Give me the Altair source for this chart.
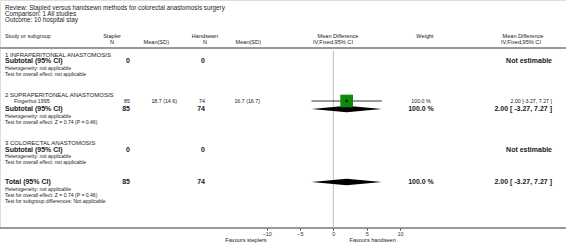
import altair as alt
import pandas as pd

# ---------------- data ----------------
review_line = "Review:  Stapled versus handsewn methods for colorectal anastomosis surgery"
comparison_line = "Comparison:  1 All studies"
outcome_line = "Outcome:  10 hospital stay"

group_titles = ["1 INFRAPERITONEAL ANASTOMOSIS", "2 SUPRAPERITONEAL ANASTOMOSIS", "3 COLORECTAL ANASTOMOSIS"]
subtotal_n1 = [0, 85, 0]
subtotal_n2 = [0, 74, 0]
subtotal_weight = [None, 100.0, None]
subtotal_md = [None, 2.00, None]
subtotal_lo = [None, -3.27, None]
subtotal_hi = [None, 7.27, None]
subtotal_het = ["not applicable", "not applicable", "not applicable"]
subtotal_effect = ["not applicable", "Z = 0.74 (P = 0.46)", "not applicable"]

study_names = ["Fingerhut 1995"]
study_group = [1]
study_n1 = [85]
study_mean1 = [18.7]
study_sd1 = [14.6]
study_n2 = [74]
study_mean2 = [16.7]
study_sd2 = [16.7]
study_weight = [100.0]
study_md = [2.00]
study_lo = [-3.27]
study_hi = [7.27]

total_n1 = 85
total_n2 = 74
total_weight = 100.0
total_md = 2.00
total_lo = -3.27
total_hi = 7.27
total_het = "not applicable"
total_effect = "Z = 0.74 (P = 0.46)"
subgroup_diff = "Not applicable"

axis_ticks = [-10, -5, 0, 5, 10]
favours_left = "Favours steplers"
favours_right = "Favours handseen"

# ---------------- layout (pixels) ----------------
FONT = "Liberation Sans"
X_STUDY, X_INDENT = 5, 14
X_N1, X_N2 = 130, 205
X_M1_HEAD, X_M1 = 169, 177
X_M2_HEAD, X_M2 = 261, 260
X_W, X_MD = 421, 552
Y_HEAD1, Y_HEAD2, Y_RULE = 35.5, 41.5, 48
LINE = 6.2
S_META, S_HEAD, S_GROUP, S_ROW, S_SMALL, S_BOLD, S_BOLDR = 6.3, 5.6, 6.0, 5.3, 5.1, 7.0, 7.0

texts = []
def T(x, y, s, size, bold=False, align="left"):
    texts.append(dict(x=x, y=y, t=s, size=size, w="bold" if bold else "normal", a=align))

T(X_STUDY, 7.8, review_line, S_META)
T(X_STUDY, 14.0, comparison_line, S_META)
T(X_STUDY, 20.3, outcome_line, S_META)
T(X_STUDY, Y_HEAD1, "Study or subgroup", S_HEAD)
T(112, Y_HEAD1, "Stapler", S_HEAD, align="center")
T(112, Y_HEAD2, "N", S_HEAD, align="center")
T(X_M1_HEAD, Y_HEAD2, "Mean(SD)", S_HEAD, align="right")
T(205, Y_HEAD1, "Handsewn", S_HEAD, align="center")
T(205, Y_HEAD2, "N", S_HEAD, align="center")
T(X_M2_HEAD, Y_HEAD2, "Mean(SD)", S_HEAD, align="right")
T(338, Y_HEAD1, "Mean Difference", S_HEAD, align="center")
T(333, Y_HEAD2, "IV,Fixed,95% CI", S_HEAD, align="center")
T(425, Y_HEAD1, "Weight", S_HEAD, align="center")
T(523, Y_HEAD1, "Mean Difference", S_HEAD, align="center")
T(521, Y_HEAD2, "IV,Fixed,95% CI", S_HEAD, align="center")

group_y = [54.5, 94.5, 143]
diamonds = []
squares = []
ci_lines = []
for g in range(3):
    y = group_y[g]
    T(X_STUDY, y, group_titles[g], S_GROUP)
    y += 6.5
    for i, nm in enumerate(study_names):
        if study_group[i] != g:
            continue
        T(X_INDENT, y, nm, S_ROW)
        T(X_N1, y, f"{study_n1[i]}", S_ROW, align="right")
        T(X_M1, y, f"{study_mean1[i]:.1f} ({study_sd1[i]:.1f})", S_ROW, align="right")
        T(X_N2, y, f"{study_n2[i]}", S_ROW, align="right")
        T(X_M2, y, f"{study_mean2[i]:.1f} ({study_sd2[i]:.1f})", S_ROW, align="right")
        T(X_W, y, f"{study_weight[i]:.1f} %", S_ROW, align="center")
        T(X_MD, y, f"{study_md[i]:.2f} [{study_lo[i]:.2f}, {study_hi[i]:.2f} ]", S_ROW, align="right")
        squares.append(dict(md=study_md[i], y=y))
        ci_lines.append(dict(lo=study_lo[i], hi=study_hi[i], y=y))
        y += 8
    T(X_STUDY, y, "Subtotal (95% CI)", S_BOLD, bold=True)
    T(X_N1, y, f"{subtotal_n1[g]}", S_BOLD, bold=True, align="right")
    T(X_N2, y, f"{subtotal_n2[g]}", S_BOLD, bold=True, align="right")
    if subtotal_md[g] is None:
        T(X_MD, y, "Not estimable", S_BOLDR, bold=True, align="right")
    else:
        T(X_W, y, f"{subtotal_weight[g]:.1f} %", S_BOLDR, bold=True, align="center")
        T(X_MD, y, f"{subtotal_md[g]:.2f} [ {subtotal_lo[g]:.2f}, {subtotal_hi[g]:.2f} ]", S_BOLDR, bold=True, align="right")
        diamonds.append(dict(lo=subtotal_lo[g], md=subtotal_md[g], hi=subtotal_hi[g], y=y))
    y += 6.6
    T(X_STUDY, y, "Heterogeneity: " + subtotal_het[g], S_SMALL)
    y += LINE
    T(X_STUDY, y, "Test for overall effect: " + subtotal_effect[g], S_SMALL)

y = 182
T(X_STUDY, y, "Total (95% CI)", S_BOLD, bold=True)
T(X_N1, y, f"{total_n1}", S_BOLD, bold=True, align="right")
T(X_N2, y, f"{total_n2}", S_BOLD, bold=True, align="right")
T(X_W, y, f"{total_weight:.1f} %", S_BOLDR, bold=True, align="center")
T(X_MD, y, f"{total_md:.2f} [ {total_lo:.2f}, {total_hi:.2f} ]", S_BOLDR, bold=True, align="right")
diamonds.append(dict(lo=total_lo, md=total_md, hi=total_hi, y=y))
y += 6.6
T(X_STUDY, y, "Heterogeneity: " + total_het, S_SMALL)
y += LINE
T(X_STUDY, y, "Test for overall effect: " + total_effect, S_SMALL)
y += LINE
T(X_STUDY, y, "Test for subgroup differences: " + subgroup_diff, S_SMALL)

Y_AXIS = 228
H = 228

text_df = pd.DataFrame(texts)
yscale = alt.Scale(domain=[0, H], range=[0, H])
pxscale = alt.Scale(domain=[0, 566], range=[0, 566])
fx = alt.Scale(domain=[-10, 10], range=[266.67, 400])

layers = []
for (a, w, s), sub in text_df.groupby(["a", "w", "size"]):
    layers.append(
        alt.Chart(sub).mark_text(font=FONT, baseline="middle", align=a, fontWeight=w, fontSize=float(s), color="#1a1a1a").encode(
            x=alt.X("x:Q", scale=pxscale, axis=None),
            y=alt.Y("y:Q", scale=yscale, axis=None),
            text="t:N",
        )
    )

rules_df = pd.DataFrame([dict(x1=0, x2=566, y=Y_RULE), dict(x1=0, x2=566, y=Y_AXIS)])
hrules = alt.Chart(rules_df).mark_rule(color="#999999", strokeWidth=2).encode(
    x=alt.X("x1:Q", scale=pxscale, axis=None),
    x2="x2:Q",
    y=alt.Y("y:Q", scale=yscale, axis=None),
)
layers.append(hrules)
text_part = alt.layer(*layers)

# forest part
zero_df = pd.DataFrame([dict(v=0, y1=Y_RULE + 3, y2=Y_AXIS - 1)])
zero_line = alt.Chart(zero_df).mark_rule(color="#bbbbbb", strokeWidth=1).encode(
    x=alt.X("v:Q", scale=fx, axis=alt.Axis(values=axis_ticks, domain=False, tickColor="#333333", tickSize=2,
                                           labelFont=FONT, labelFontSize=5.5, labelColor="#333333", labelPadding=1,
                                           grid=False, title=None, labelFlush=False)),
    y=alt.Y("y1:Q", scale=yscale, axis=None),
    y2="y2:Q",
)
ci_df = pd.DataFrame(ci_lines)
ci = alt.Chart(ci_df).mark_rule(color="#000000", strokeWidth=0.8).encode(
    x=alt.X("lo:Q", scale=fx), x2="hi:Q", y=alt.Y("y:Q", scale=yscale, axis=None)
)
sq_df = pd.DataFrame(squares)
sq = alt.Chart(sq_df).mark_point(shape="square", filled=True, size=160, color="#0b8a0b", opacity=1).encode(
    x=alt.X("md:Q", scale=fx), y=alt.Y("y:Q", scale=yscale, axis=None)
)
sq_tick = alt.Chart(sq_df).mark_point(shape="cross", filled=True, size=6, color="#000000", opacity=1).encode(
    x=alt.X("md:Q", scale=fx), y=alt.Y("y:Q", scale=yscale, axis=None)
)
drows = []
for d in diamonds:
    drows.append(dict(k=d["y"], x=d["lo"], y1=d["y"], y2=d["y"]))
    drows.append(dict(k=d["y"], x=d["md"], y1=d["y"] - 3.2, y2=d["y"] + 3.2))
    drows.append(dict(k=d["y"], x=d["hi"], y1=d["y"], y2=d["y"]))
dia = alt.Chart(pd.DataFrame(drows)).mark_area(color="#000000", opacity=1).encode(
    x=alt.X("x:Q", scale=fx), y=alt.Y("y1:Q", scale=yscale, axis=None), y2="y2:Q", detail="k:N"
)
fav_df = pd.DataFrame([dict(v=-10, t=favours_left), dict(v=5.9, t=favours_right)])
fav_l = alt.Chart(fav_df.iloc[[0]]).mark_text(font=FONT, fontSize=5.6, align="right", baseline="middle", color="#222222").encode(
    x=alt.X("v:Q", scale=fx), y=alt.value(H + 12), text="t:N")
fav_r = alt.Chart(fav_df.iloc[[1]]).mark_text(font=FONT, fontSize=5.6, align="center", baseline="middle", color="#222222").encode(
    x=alt.X("v:Q", scale=fx), y=alt.value(H + 12), text="t:N")
forest = alt.layer(zero_line, ci, dia, sq, sq_tick, fav_l, fav_r)

chart = alt.layer(text_part, forest).resolve_scale(x="independent").properties(
    width=566, height=H, padding={"left": 0, "top": 0, "right": 0, "bottom": 24},
    autosize=alt.AutoSizeParams(type="none"),
).configure_view(stroke=None).configure(background="white")

chart.save("out.html", embed_options={"renderer": "svg", "actions": False})
